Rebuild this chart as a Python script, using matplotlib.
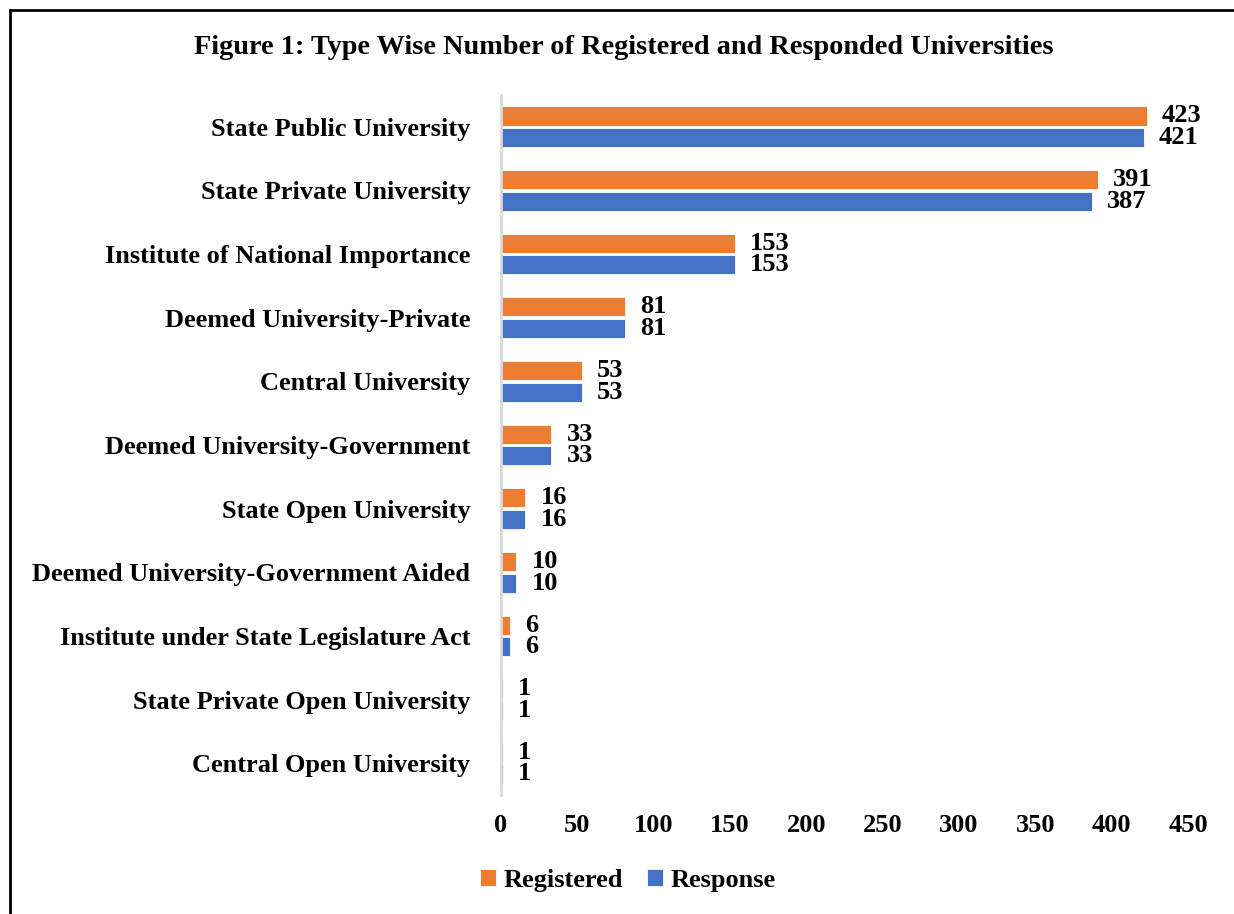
import matplotlib
matplotlib.use("Agg")
import matplotlib.pyplot as plt
from matplotlib.lines import Line2D
import numpy as np

categories = [
    "State Public University",
    "State Private University",
    "Institute of National Importance",
    "Deemed University-Private",
    "Central University",
    "Deemed University-Government",
    "State Open University",
    "Deemed University-Government Aided",
    "Institute under State Legislature Act",
    "State Private Open University",
    "Central Open University",
]
registered = [423, 391, 153, 81, 53, 33, 16, 10, 6, 1, 1]
response = [421, 387, 153, 81, 53, 33, 16, 10, 6, 1, 1]
xticks = [0, 50, 100, 150, 200, 250, 300, 350, 400, 450]

plt.rcParams['font.family'] = ['Liberation Serif', 'DejaVu Serif']
plt.rcParams['font.weight'] = 'bold'

W, H = 1234, 914
fig = plt.figure(figsize=(W / 100, H / 100), dpi=100)
ax = fig.add_axes([501 / W, 1 - 795 / H, (1188 - 501) / W, (795 - 95) / H])

y = np.arange(len(categories))
h = 0.3
off = 0.17
c_reg = '#ED7D31'
c_res = '#4472C4'
b1 = ax.barh(y - off, registered, height=h, color=c_reg, edgecolor='white', linewidth=0.6, label='Registered')
b2 = ax.barh(y + off, response, height=h, color=c_res, edgecolor='white', linewidth=0.6, label='Response')

for bars, vals in ((b1, registered), (b2, response)):
    for rect, v in zip(bars, vals):
        ax.annotate(str(v), (rect.get_width(), rect.get_y() + rect.get_height() / 2),
                    xytext=(11, 0), textcoords='offset points', ha='left', va='center',
                    fontsize=19, fontweight='bold', color='black')

ax.set_ylim(len(categories) - 0.5, -0.5)
ax.set_xlim(0, 450)
ax.set_yticks(y)
ax.set_yticklabels(categories, fontsize=19, fontweight='bold')
ax.set_xticks(xticks)
ax.set_xticklabels([str(t) for t in xticks], fontsize=19, fontweight='bold')
ax.tick_params(axis='both', length=0)
ax.tick_params(axis='y', pad=22)
ax.tick_params(axis='x', pad=14)
for s in ('top', 'right', 'bottom'):
    ax.spines[s].set_visible(False)
ax.spines['left'].set_color('#D9D9D9')
ax.spines['left'].set_linewidth(2)

fig.text(624 / W, 1 - 47 / H, "Figure 1: Type Wise Number of Registered and Responded Universities",
         ha='center', va='center', fontsize=20.3, fontweight='bold')

fig.legend(handles=[b1, b2], labels=['Registered', 'Response'], loc='center',
           bbox_to_anchor=(628 / W, 1 - 880 / H), ncol=2, frameon=False,
           prop={'size': 19, 'weight': 'bold'}, handlelength=0.6, handleheight=0.6,
           handletextpad=0.3, columnspacing=0.9)

# outer border lines (top and left)
fig.add_artist(Line2D([10 / W, 1.0], [1 - 10 / H, 1 - 10 / H], transform=fig.transFigure, color='black', linewidth=2))
fig.add_artist(Line2D([10 / W, 10 / W], [1 - 10 / H, 0], transform=fig.transFigure, color='black', linewidth=2))

fig.savefig('out.png', dpi=100)
